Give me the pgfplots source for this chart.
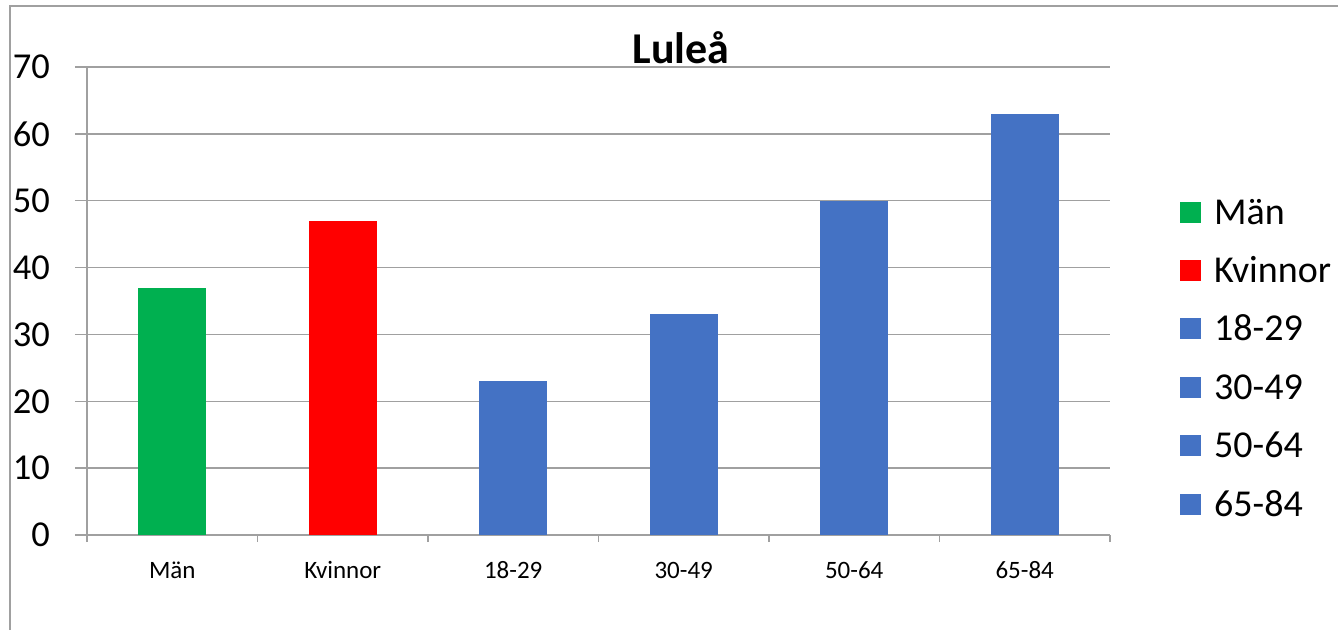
\documentclass[border=0pt]{standalone}
\usepackage{fontspec}
\setmainfont{Carlito}
\usepackage{pgfplots}
\pgfplotsset{compat=1.18}
\definecolor{gm}{RGB}{0,176,80}
\definecolor{rk}{RGB}{255,0,0}
\definecolor{bl}{RGB}{68,114,196}
\definecolor{ln}{RGB}{160,160,160}
\begin{document}
\begin{tikzpicture}
\useasboundingbox (0,0) rectangle (1338pt,630pt);
\draw[ln, line width=2pt] (10pt,0pt) -- (10pt,624pt) -- (1338pt,624pt);
\begin{axis}[
  at={(87pt,95pt)}, anchor=south west,
  scale only axis, width=1023pt, height=468pt,
  xmin=-0.5, xmax=5.5, ymin=0, ymax=70,
  ytick={0,10,...,70},
  xtick={0,...,5},
  xticklabels={Män,Kvinnor,18-29,30-49,50-64,65-84},
  minor xtick={-0.5,0.5,...,5.5},
  axis x line*=bottom, axis y line*=left,
  axis line style={ln, line width=1.5pt, -},
  ymajorgrids, grid style={ln, line width=1.5pt},
  tick align=outside,
  major tick length=12pt, minor tick length=7pt,
  tick style={ln, line width=1.5pt},
  every major x tick/.append style={draw=none},
  /pgf/number format/assume math mode=true,
  yticklabel style={font=\fontsize{36.5}{36.5}\selectfont, anchor=east, inner sep=0pt, xshift=-25pt},
  xticklabel style={font=\fontsize{25}{25}\selectfont, anchor=base, inner sep=0pt, yshift=-31pt},
  legend cell align=left,
  legend style={at={(1.0684,0.378)}, anchor=west, draw=none, fill=none, inner sep=0pt,
    row sep=34.4pt, column sep=13pt,
    nodes={inner sep=0pt, text height=24pt, text depth=0pt},
    font=\fontsize{38}{38}\selectfont},
  legend image code/.code={\fill[#1] (0pt,-10.5pt) rectangle (21pt,10.5pt);},
]
\addplot[ybar, bar width=0.4, bar shift=0pt, fill=gm, draw=none] coordinates {(0,37)};
\addlegendentry{Män}
\addplot[ybar, bar width=0.4, bar shift=0pt, fill=rk, draw=none] coordinates {(1,47)};
\addlegendentry{Kvinnor}
\addplot[ybar, bar width=0.4, bar shift=0pt, fill=bl, draw=none] coordinates {(2,23)};
\addlegendentry{18-29}
\addplot[ybar, bar width=0.4, bar shift=0pt, fill=bl, draw=none] coordinates {(3,33)};
\addlegendentry{30-49}
\addplot[ybar, bar width=0.4, bar shift=0pt, fill=bl, draw=none] coordinates {(4,50)};
\addlegendentry{50-64}
\addplot[ybar, bar width=0.4, bar shift=0pt, fill=bl, draw=none] coordinates {(5,63)};
\addlegendentry{65-84}
\end{axis}
\node[anchor=base, font=\fontsize{44}{44}\selectfont\bfseries] at (681pt,566pt) {Luleå};
\end{tikzpicture}
\end{document}
